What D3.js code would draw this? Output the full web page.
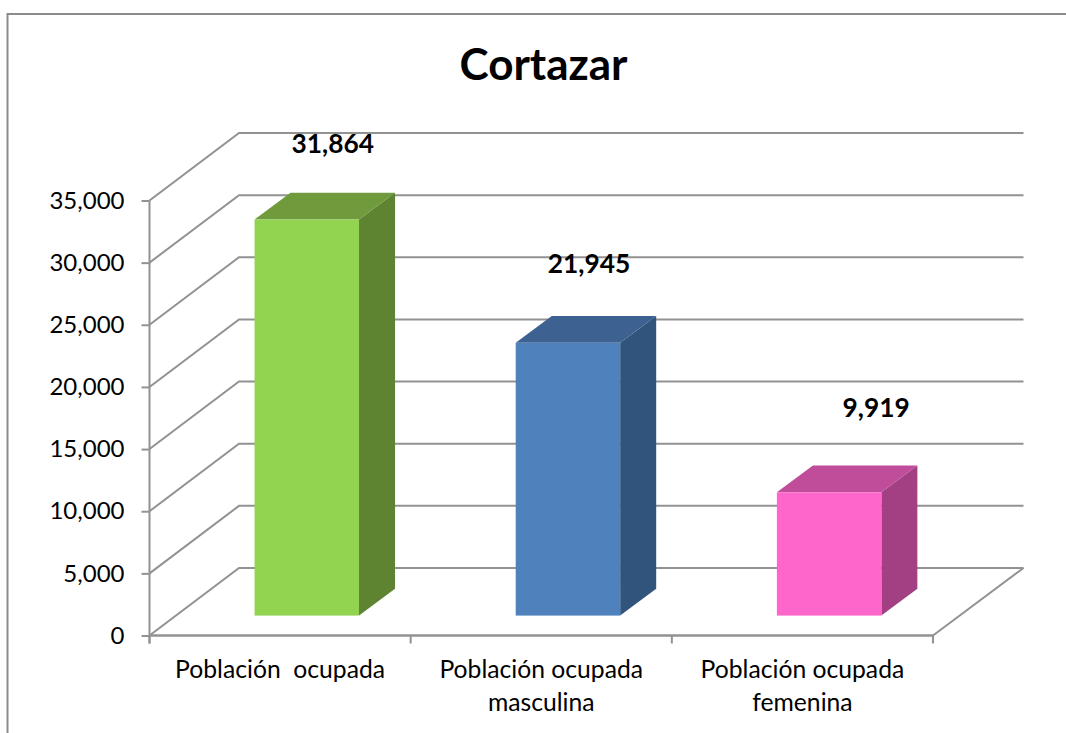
<!DOCTYPE html>
<html>
<head>
<meta charset="utf-8">
<script src="https://cdn.jsdelivr.net/npm/d3@7"></script>
<style>
  html, body { margin: 0; padding: 0; background: #fff; overflow: hidden; }
  text { font-family: Lato, "Open Sans", sans-serif; fill: #000; }
  .tick-label { font-size: 24px; }
  .cat-label { font-size: 24.7px; }
  .val-label { font-size: 26.3px; font-weight: bold; }
</style>
</head>
<body>
<svg id="chart" width="1066" height="733"></svg>
<script>
const categories = [["Población  ocupada"], ["Población ocupada", "masculina"], ["Población ocupada", "femenina"]]
const values = [31864, 21945, 9919]
const tickValues = [0, 5000, 10000, 15000, 20000, 25000, 30000, 35000]
const frontColors = ["#92d350", "#4f81bd", "#ff66cc"]
const topColors = ["#6f9b3c", "#3d6291", "#bf4d99"]
const sideColors = ["#5f8431", "#30547c", "#a34083"]

const gridColor = "#929292"
const depthX = 90.5, depthY = -67.5
// where the bar sits inside the floor depth, as a fraction
const zFront = 0.295, zBack = 0.693

const svg = d3.select("#chart")
const x = d3.scaleBand().domain(d3.range(values.length)).range([149.5, 933]).paddingInner(0.6).paddingOuter(0.3)
const y = d3.scaleLinear().domain([0, 35000]).range([635.5, 200.5])

// chart frame, runs off the picture on the right and bottom
svg.append("path")
  .attr("d", "M7.5,733V14H1066")
  .attr("fill", "none")
  .attr("stroke", "#8c8c8c")
  .attr("stroke-width", 2)

// gridlines: slanted on the side wall, then flat along the back wall
svg.append("g").selectAll("path")
  .data(tickValues)
  .join("path")
  .attr("d", d => `M${x.range()[0]},${y(d)}l${depthX - 1},${depthY}H${x.range()[1] + depthX}`)
  .attr("fill", "none")
  .attr("stroke", gridColor)
  .attr("stroke-width", 2)

// floor right edge
svg.append("path")
  .attr("d", `M${x.range()[1]},${y(0)}l${depthX},${depthY}`)
  .attr("fill", "none")
  .attr("stroke", gridColor)
  .attr("stroke-width", 2)

// axes
const axisLeft = d3.axisLeft(y).tickValues(tickValues).tickSize(8).tickPadding(17).tickFormat(d3.format(","))
const yAxis = svg.append("g").attr("transform", `translate(${x.range()[0]},0)`).call(axisLeft)
yAxis.select(".domain").attr("stroke", gridColor).attr("stroke-width", 2).attr("d", `M0,${y(35000)}V${y(0) + 8}`)
yAxis.selectAll(".tick line").attr("stroke", gridColor).attr("stroke-width", 2)
yAxis.selectAll(".tick text").attr("class", "tick-label")
yAxis.attr("font-size", null).attr("font-family", null)

const step = x.step()
const catTicks = d3.range(values.length + 1).map(i => x.range()[0] + i * step)
svg.append("path")
  .attr("d", `M${x.range()[0]},${y(0)}H${x.range()[1]}`)
  .attr("stroke", gridColor)
  .attr("stroke-width", 2.5)
svg.append("g").selectAll("line")
  .data(catTicks)
  .join("line")
  .attr("x1", d => d).attr("x2", d => d)
  .attr("y1", y(0)).attr("y2", y(0) + 8)
  .attr("stroke", gridColor)
  .attr("stroke-width", 2)

// bars
const bars = svg.append("g").selectAll("g")
  .data(values)
  .join("g")

const fx = i => x(i) + depthX * zFront
const fy = v => y(v) + depthY * zFront
const sideX = depthX * (zBack - zFront)
const sideY = depthY * (zBack - zFront)

bars.append("path")
  .attr("fill", (d, i) => sideColors[i])
  .attr("d", (d, i) => {
    const r = fx(i) + x.bandwidth()
    return `M${r},${fy(d)}l${sideX},${sideY}V${fy(0) + sideY}L${r},${fy(0)}Z`
  })
bars.append("path")
  .attr("fill", (d, i) => topColors[i])
  .attr("d", (d, i) => `M${fx(i)},${fy(d)}l${sideX},${sideY}h${x.bandwidth()}l${-sideX},${-sideY}Z`)
bars.append("rect")
  .attr("fill", (d, i) => frontColors[i])
  .attr("x", (d, i) => fx(i))
  .attr("y", d => fy(d))
  .attr("width", x.bandwidth())
  .attr("height", d => fy(0) - fy(d))

// value labels were dragged by hand in the original, hence the nudges
const nudgeX = [26, 21, 47]
const nudgeY = [-40, -43, -48]
svg.append("g").selectAll("text")
  .data(values)
  .join("text")
  .attr("class", "val-label")
  .attr("text-anchor", "middle")
  .attr("x", (d, i) => fx(i) + x.bandwidth() / 2 + nudgeX[i])
  .attr("y", (d, i) => fy(d) + sideY + nudgeY[i])
  .text(d3.format(","))

// category labels
svg.append("g").selectAll("text")
  .data(categories)
  .join("text")
  .attr("class", "cat-label")
  .attr("text-anchor", "middle")
  .attr("y", y(0) + 42)
  .attr("transform", (d, i) => `translate(${x.range()[0] + (i + 0.5) * step},0)`)
  .selectAll("tspan")
  .data(d => d)
  .join("tspan")
  .attr("x", 0)
  .attr("dy", (d, i) => i ? 33 : 0)
  .style("white-space", "pre")
  .text(d => d)

svg.append("text")
  .attr("x", 543.5)
  .attr("y", 80)
  .attr("text-anchor", "middle")
  .attr("font-size", 44)
  .attr("font-weight", "bold")
  .text("Cortazar")
</script>
</body>
</html>
